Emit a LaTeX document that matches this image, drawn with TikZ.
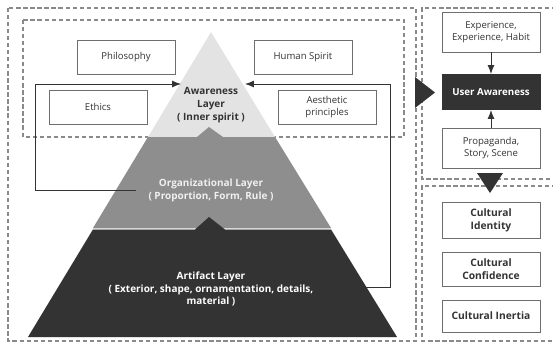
\documentclass[tikz,border=0pt]{standalone}
\usepackage{fontspec}
\setmainfont{Open Sans}
\usepackage{tikz}
\usetikzlibrary{arrows.meta,positioning}

\definecolor{lightLayer}{HTML}{E3E3E3}
\definecolor{midLayer}{HTML}{8E8E8E}
\definecolor{darkLayer}{HTML}{333333}
\definecolor{boxLine}{HTML}{6E6E6E}
\definecolor{dashLine}{HTML}{8A8A8A}

\begin{document}
\begin{tikzpicture}
        % 以像素为单位的坐标, y 轴向下
        [x=0.025cm,y=-0.025cm,
        TxtBox/.style={rectangle,draw=boxLine, fill=white, semithick, minimum width=2.45cm, minimum height=0.85cm, align=center, text=darkLayer, font=\fontsize{6.8}{8.2}\selectfont},
        BoldBox/.style={TxtBox, font=\fontsize{7.3}{8.8}\selectfont\bfseries},
        DarkBox/.style={TxtBox, draw=darkLayer, fill=darkLayer, text=white, font=\fontsize{6.9}{8.2}\selectfont\bfseries},
        Frame/.style={draw=dashLine, densely dashed, thick},
        LayerTxt/.style={align=center, font=\fontsize{7.1}{9}\selectfont\bfseries},
        Link/.style={draw=darkLayer, semithick, -{Latex[length=2.2mm,width=1.7mm]}}]

        \useasboundingbox (0,0) rectangle (553,343);

        % 虚线框
        \draw[Frame] (8,8) rectangle (416,341);
        \draw[Frame] (23,20) rectangle (404,137);
        \draw[Frame] (556,8) -- (422,8) -- (422,179) -- (556,179);
        \draw[Frame] (556,186) -- (422,186) -- (422,341) -- (556,341);

        % 金字塔三层
        \fill[lightLayer] (211,32) -- (397,337) -- (28,337) -- cycle;
        \fill[midLayer] (148,137) -- (197,137) -- (209,127) -- (223,137) -- (275,137)
            -- (331,228) -- (93,228) -- cycle;
        \fill[darkLayer] (93,229.5) -- (195,229.5) -- (209,217) -- (225,229.5) -- (331,229.5)
            -- (397,337) -- (28,337) -- cycle;

        % 左侧文字框
        \node[TxtBox] (phil) at (126,57) {Philosophy};
        \node[TxtBox] (human) at (303,57) {Human Spirit};
        \node[TxtBox] (ethics) at (98,107) {Ethics};
        \node[TxtBox] (aes) at (327,107) {Aesthetic\\principles};

        % 层名称
        \node[LayerTxt, text=darkLayer] (aware) at (211,105) {Awareness\\Layer\\( Inner spirit )};
        \node[LayerTxt, text=white!94!black] (org) at (211,190.5) {Organizational Layer\\( Proportion, Form, Rule )};
        \node[LayerTxt, text=white] (art) at (211,289) {Artifact Layer\\( Exterior, shape, ornamentation, details,\\material )};

        % 连线端点
        \coordinate (orgEnd) at (136,190);
        \coordinate (artEnd) at (343,287);
        \coordinate (awareL) at (181,84);
        \coordinate (awareR) at (245,84);

        \draw[Link] (orgEnd) -- (35,190) |- (awareL);
        \draw[Link] (artEnd) -- (390,287) |- (awareR);

        % 右侧文字框
        \node[TxtBox, minimum height=1cm] (exp) at (491,32) {Experience,\\Experience, Habit};
        \node[DarkBox, minimum height=0.88cm] (user) at (491,92) {User Awareness};
        \node[TxtBox, minimum height=1cm] (prop) at (491,148) {Propaganda,\\Story, Scene};

        \draw[Link] (exp) -- (user);
        \draw[Link] (prop) -- (user);

        \node[BoldBox, minimum height=0.88cm] (ident) at (491,220.5) {Cultural\\Identity};
        \node[BoldBox, minimum height=0.85cm] (conf) at (491,269) {Cultural\\Confidence};
        \node[BoldBox, minimum height=0.8cm] (inert) at (491,316) {Cultural Inertia};

        % 大三角箭头
        \fill[darkLayer] (415,77) -- (435,92.5) -- (415,108) -- cycle;
        \fill[darkLayer] (477,173) -- (503,173) -- (490,193) -- cycle;
    \end{tikzpicture}
\end{document}
